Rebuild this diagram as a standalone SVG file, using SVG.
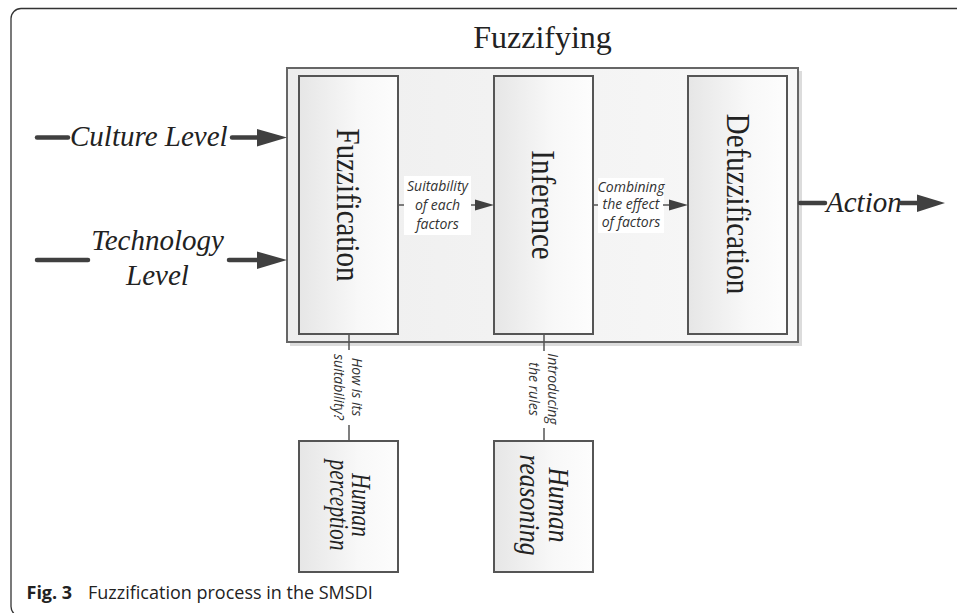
<svg xmlns="http://www.w3.org/2000/svg" width="957" height="613" viewBox="0 0 957 613">
  <defs>
    <linearGradient id="gMain" x1="0" y1="0" x2="1" y2="0">
      <stop offset="0" stop-color="#eeeeee"/>
      <stop offset="1" stop-color="#f8f8f8"/>
    </linearGradient>
    <linearGradient id="gBox" x1="0" y1="0" x2="1" y2="0">
      <stop offset="0" stop-color="#e6e6e6"/>
      <stop offset="0.6" stop-color="#f8f8f8"/>
      <stop offset="1" stop-color="#fdfdfd"/>
    </linearGradient>
    <style>
      .frame { fill: none; stroke: #333; stroke-width: 1.3; }
      .main { fill: url(#gMain); stroke: #666; stroke-width: 2; }
      .shadow { fill: #dcdcdc; }
      .box { fill: url(#gBox); stroke: #555; stroke-width: 2; }
      .big { font-family: "Liberation Serif", "Times New Roman", serif; fill: #222; }
      .bigit { font-family: "Liberation Serif", "Times New Roman", serif; font-style: italic; fill: #222; font-size: 29px; }
      .lbl { font-family: "Open Sans", "Noto Sans", sans-serif; font-style: italic; fill: #333; font-size: 14px; text-anchor: middle; }
      .thick { stroke: #404040; stroke-width: 4.5; stroke-linecap: round; fill: none; }
      .thin { stroke: #555; stroke-width: 1.5; fill: none; }
      .head { fill: #404040; }
      .cap { font-family: "Open Sans", "Noto Sans", sans-serif; fill: #222; font-size: 18px; }
    </style>
  </defs>

  <rect class="frame" x="11" y="8.5" width="965" height="608" rx="10"/>

  <g id="fuzzifying">
    <rect class="shadow" x="290" y="71" width="512" height="275"/>
    <rect class="main" x="287" y="68" width="511" height="274"/>
    <text class="big" x="542.5" y="48" font-size="32" text-anchor="middle">Fuzzifying</text>
  </g>

  <g id="fuzzification">
    <rect class="box" x="299" y="76" width="99" height="258"/>
    <text class="big" font-size="29" text-anchor="middle" transform="translate(337 205) rotate(90) scale(1 1.18)">Fuzzification</text>
  </g>

  <g id="inference">
    <rect class="box" x="494" y="76" width="99" height="258"/>
    <text class="big" font-size="29" text-anchor="middle" transform="translate(532 205) rotate(90) scale(1 1.18)">Inference</text>
  </g>

  <g id="defuzzification">
    <rect class="box" x="688" y="76" width="99" height="258"/>
    <text class="big" font-size="29" text-anchor="middle" transform="translate(727 204) rotate(90) scale(1 1.18)">Defuzzification</text>
  </g>

  <g id="human-perception">
    <rect class="box" x="299" y="441" width="99" height="131"/>
    <g transform="translate(352 505) rotate(90) scale(1 1.25)">
      <text class="big" font-size="21.5" font-style="italic" text-anchor="middle"><tspan x="0" y="0">Human</tspan><tspan x="0" y="17.6">perception</tspan></text>
    </g>
  </g>

  <g id="human-reasoning">
    <rect class="box" x="494" y="441" width="99" height="131"/>
    <g transform="translate(549 505) rotate(90) scale(1 1.12)">
      <text class="big" font-size="25.5" font-style="italic" text-anchor="middle"><tspan x="0" y="0">Human</tspan><tspan x="0" y="26.3">reasoning</tspan></text>
    </g>
  </g>

  <g id="connectors">
    <!-- Culture Level input -->
    <line class="thick" x1="37" y1="137.5" x2="68" y2="137.5"/>
    <text class="bigit" x="70" y="146">Culture Level</text>
    <line class="thick" x1="232" y1="137.5" x2="260" y2="137.5"/>
    <polygon class="head" points="257,129 287,137.5 257,146.5"/>

    <!-- Technology Level input -->
    <line class="thick" x1="37" y1="260" x2="88" y2="260"/>
    <text class="bigit" text-anchor="middle"><tspan x="157.5" y="250">Technology</tspan><tspan x="157.5" y="285">Level</tspan></text>
    <line class="thick" x1="229" y1="260" x2="260" y2="260"/>
    <polygon class="head" points="257,251.5 287,260 257,269"/>

    <!-- Action output -->
    <line class="thick" x1="800" y1="203" x2="825" y2="203"/>
    <text class="bigit" x="826" y="212">Action</text>
    <line class="thick" x1="901" y1="203" x2="920" y2="203"/>
    <polygon class="head" points="917,194.5 945,203 917,212"/>

    <!-- Fuzzification -> Inference -->
    <line class="thin" x1="398" y1="205" x2="404" y2="205"/>
    <rect x="404" y="176" width="67" height="59" fill="#ffffff"/>
    <text class="lbl"><tspan x="437.5" y="190.5">Suitability</tspan><tspan x="437.5" y="209.5">of each</tspan><tspan x="437.5" y="228.5">factors</tspan></text>
    <line class="thin" x1="471" y1="205" x2="478" y2="205"/>
    <polygon class="head" points="475,199.5 494,205 475,210.5"/>

    <!-- Inference -> Defuzzification -->
    <line class="thin" x1="593" y1="205" x2="598" y2="205"/>
    <rect x="598" y="178" width="66" height="55" fill="#ffffff"/>
    <text class="lbl" font-size="12.5"><tspan x="631" y="191.5">Combining</tspan><tspan x="631" y="209">the effect</tspan><tspan x="631" y="226.5">of factors</tspan></text>
    <line class="thin" x1="663" y1="205" x2="671" y2="205"/>
    <polygon class="head" points="669,199.5 688,205 669,210.5"/>

    <!-- Human perception -> Fuzzification -->
    <line class="thin" x1="349" y1="334" x2="349" y2="350"/>
    <text class="lbl" transform="rotate(90 352 387)"><tspan x="352" y="387">How is its</tspan><tspan x="352" y="405">suitability?</tspan></text>
    <line class="thin" x1="349" y1="425" x2="349" y2="441"/>

    <!-- Human reasoning -> Inference -->
    <line class="thin" x1="544" y1="334" x2="544" y2="351"/>
    <text class="lbl" transform="rotate(90 548 389)"><tspan x="548" y="389">Introducing</tspan><tspan x="548" y="408">the rules</tspan></text>
    <line class="thin" x1="544" y1="428" x2="544" y2="441"/>
  </g>

  <text class="cap" x="26.5" y="598.5"><tspan font-weight="bold">Fig. 3</tspan><tspan x="88">Fuzzification process in the SMSDI</tspan></text>
</svg>
